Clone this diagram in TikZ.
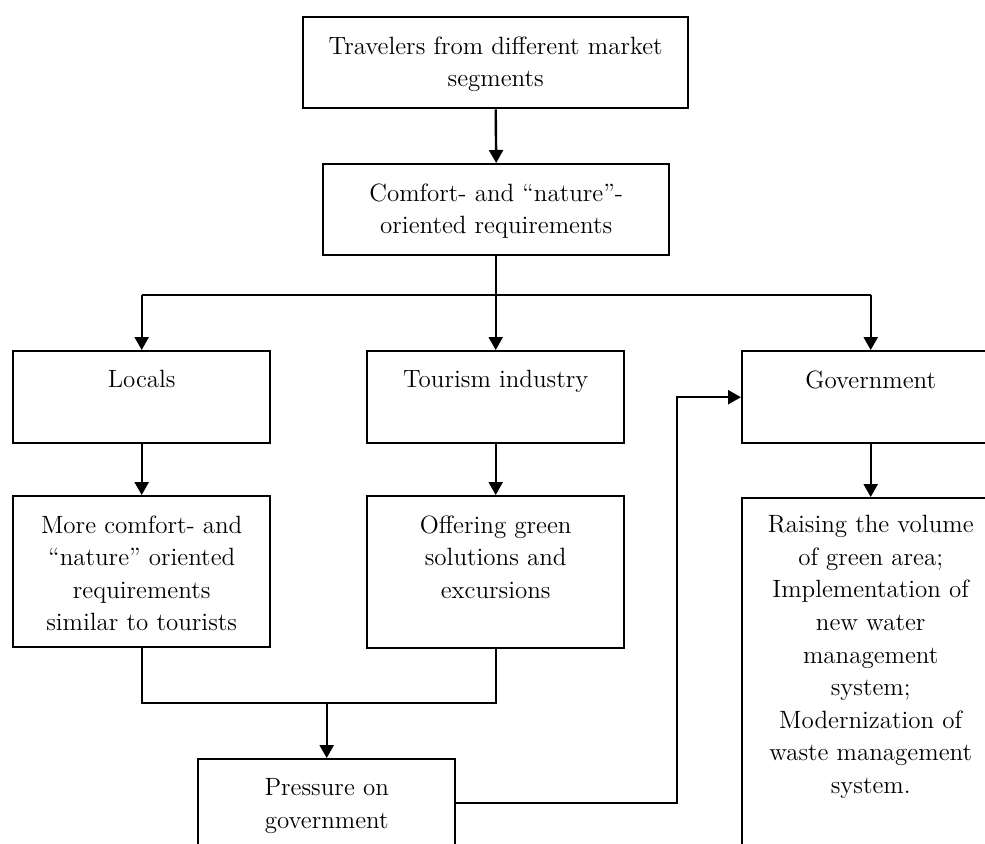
\documentclass[tikz,border=0pt]{standalone}
\usetikzlibrary{arrows.meta,positioning}

\begin{document}
\begin{tikzpicture}
[x=0.5pt, y=-0.5pt,
kasten/.style={draw, line width=1.2pt, anchor=north west, inner sep=0pt, minimum width=128.5pt},
inhalt/.style={align=center, inner sep=0pt, font=\fontsize{12.5}{16.3}\selectfont},
linie/.style={line width=1.2pt},
pfeil/.style={linie, -{Triangle[length=6.5pt,width=7pt]}},
]
\useasboundingbox (0,0) rectangle (985,843);
\clip (0,0) rectangle (985,843);

\node[kasten, minimum width=192.5pt, minimum height=45.5pt] (trav) at (302,16) {};
\node[kasten, minimum width=173pt, minimum height=45.5pt] (comf) at (322,163) {};

\node[kasten, minimum height=46pt] (loc) at (12,350) {};
\node[kasten, minimum height=46pt] (tour) at (366,350) {};
\node[kasten, minimum height=46pt] (gov) at (741,350) {};

\node[kasten, minimum height=75.5pt] (more) at (12,495) {};
\node[kasten, minimum height=76pt] (offer) at (366,495) {};
\node[kasten, minimum height=200pt] (rais) at (741,497) {};

\node[kasten, minimum height=44pt] (pres) at (197,758) {};

\node[inhalt, below=10pt of trav.north] (trav-t) {Travelers from different market\\segments};
\node[inhalt, below=10pt of comf.north] (comf-t) {Comfort- and ``nature''-\\oriented requirements};
\node[inhalt, below=10pt of loc.north] (loc-t) {Locals};
\node[inhalt, below=10pt of tour.north] (tour-t) {Tourism industry};
\node[inhalt, below=10pt of gov.north] (gov-t) {Government};
\node[inhalt, below=10pt of more.north] (more-t) {More comfort- and\\``nature'' oriented\\requirements\\similar to tourists};
\node[inhalt, below=10pt of offer.north] (offer-t) {Offering green\\solutions and\\excursions};
\node[inhalt, below=9pt of rais.north] (rais-t) {Raising the volume\\of green area;\\Implementation of\\new water\\management\\system;\\Modernization of\\waste management\\system.};
\node[inhalt, below=10pt of pres.north] (pres-t) {Pressure on\\government};

\coordinate (leiste) at (0,295);
\coordinate (sammel) at (0,703);
\coordinate (rueck) at (677,0);

\draw[pfeil] (trav.south) -- (comf.north);
\draw[linie] (comf.south) -- (comf.south |- leiste);
\draw[linie] (loc.north |- leiste) -- (gov.north |- leiste);
\foreach \k in {loc,tour,gov}
  \draw[pfeil] (\k.north |- leiste) -- (\k.north);

\draw[pfeil] (loc.south) -- (more.north);
\draw[pfeil] (tour.south) -- (offer.north);
\draw[pfeil] (gov.south) -- (rais.north);

\draw[linie] (more.south) |- (sammel -| offer.south) -- (offer.south);
\draw[pfeil] (sammel -| pres.north) -- (pres.north);
\draw[pfeil] (pres.east) -| (rueck |- gov.west) -- (gov.west);
\end{tikzpicture}
\end{document}
